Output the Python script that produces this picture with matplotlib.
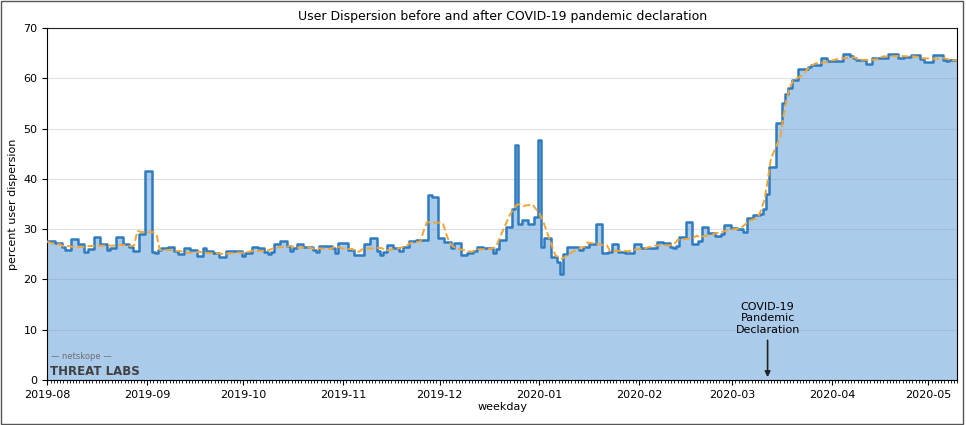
import numpy as np
import pandas as pd
import matplotlib
matplotlib.use("Agg")
import matplotlib.pyplot as plt
import matplotlib.dates as mdates
from matplotlib.patches import Rectangle

# weekday values (percent user dispersion), one list per month
aug = [27.6, 27.6, 27.3, 26.5, 25.8, 25.8, 28.0, 27.0, 25.5, 26.1, 26.1,
       28.5, 27.0, 25.8, 26.2, 26.2, 28.5, 27.0, 26.5, 25.6, 25.6, 29.1]
sep = [41.5, 25.5, 25.2, 25.8, 26.2, 26.5, 25.6, 25.0, 25.0, 26.2, 25.8,
       24.7, 24.7, 26.2, 25.6, 25.2, 24.5, 24.5, 25.6, 25.6, 25.6]
oct_ = [24.7, 25.2, 25.2, 26.4, 26.2, 25.5, 25.0, 25.5, 27.0, 27.6, 26.6, 25.6,
        26.2, 27.0, 26.4, 26.4, 25.8, 25.5, 26.6, 26.6, 26.2, 25.3, 27.2]
nov = [27.3, 25.8, 24.9, 24.9, 24.9, 27.1, 28.2, 25.7, 24.9, 25.5, 26.8,
       26.2, 25.7, 26.5, 26.5, 27.7, 27.8, 27.8, 27.9, 36.8, 36.3]
dec = [28.2, 27.5, 27.5, 26.2, 27.2, 24.9, 25.2, 25.2, 25.6, 26.5, 26.3,
       26.3, 25.3, 26.0, 27.8, 30.5, 34.1, 46.7, 31.1, 31.8, 31.1, 32.5]
jan = [47.8, 26.5, 28.2, 24.5, 23.5, 21.1, 25.0, 26.4, 26.5, 25.8, 26.5, 26.5,
       27.0, 31.0, 25.2, 25.2, 25.5, 27.0, 25.5, 25.2, 25.2, 25.2, 27.0]
feb = [26.2, 26.2, 26.3, 26.3, 27.5, 27.3, 26.5, 26.2, 26.6, 28.5,
       31.5, 27.0, 27.0, 27.6, 30.5, 29.3, 28.6, 28.6, 29.1, 30.8]
mar = [30.2, 30.0, 30.0, 29.5, 32.3, 32.8, 33.0, 34.1, 37.0, 42.3, 51.2,
       55.0, 56.9, 58.0, 59.6, 61.8, 61.8, 62.2, 62.6, 62.6, 64.1, 63.4]
apr = [63.4, 63.4, 63.4, 64.9, 64.5, 64.1, 63.7, 63.7, 62.8, 64.1, 64.0,
       64.0, 64.0, 64.9, 64.9, 64.1, 64.1, 64.3, 64.7, 64.7, 63.9, 63.3]
may = [63.3, 64.6, 64.6, 63.7, 63.5, 63.6, 63.6]

days = pd.bdate_range("2019-08-01", "2020-05-11")
s = pd.Series(aug + sep + oct_ + nov + dec + jan + feb + mar + apr + may, index=days)
trend = s.rolling(5, center=True, min_periods=1).mean()

declaration = pd.Timestamp("2020-03-12")

fig = plt.figure(figsize=(9.66, 4.25), dpi=100)
ax = fig.add_axes([0.049, 0.106, 0.942, 0.828])

ax.fill_between(s.index, s.values, step="mid", color="#abcbea", lw=0, zorder=1)
ax.plot(s.index, s.values, drawstyle="steps-mid", color="#2f7bbf", lw=1.8, zorder=3)
ax.plot(trend.index, trend.values, "--", color="#f0a535", lw=1.4, zorder=4)

ax.set_ylim(0, 70)
ax.set_xlim(days[0], pd.Timestamp("2020-05-10"))
ax.grid(axis="y", color="#7f8fa0", alpha=0.25, lw=0.8, zorder=2)
ax.set_axisbelow(False)

ax.xaxis.set_major_locator(mdates.MonthLocator())
ax.xaxis.set_major_formatter(mdates.DateFormatter("%Y-%m"))
ax.xaxis.set_minor_locator(mdates.DayLocator())
ax.tick_params(axis="both", labelsize=8)
ax.tick_params(axis="x", which="minor", length=2)

ax.set_title("User Dispersion before and after COVID-19 pandemic declaration", fontsize=9)
ax.set_xlabel("weekday", fontsize=8, labelpad=2)
ax.set_ylabel("percent user dispersion", fontsize=8)

ax.annotate("COVID-19\nPandemic\nDeclaration", xy=(declaration, 0), xytext=(declaration, 9.0),
            ha="center", va="bottom", fontsize=8, linespacing=1.2,
            arrowprops=dict(arrowstyle="-|>", color="#222222", lw=1.2, mutation_scale=8))

# watermark
ax.text(0.004, 0.066, "\u2014 netskope \u2014", transform=ax.transAxes,
        fontsize=6, color="#707070", va="center")
ax.text(0.003, 0.024, "THREAT LABS", transform=ax.transAxes,
        fontsize=8.5, fontweight="bold", color="#404040", va="center")

fig.patches.append(Rectangle((0.001, 0.002), 0.996, 0.995, transform=fig.transFigure,
                             fill=False, edgecolor="#555555", lw=1))

fig.savefig("out.png", dpi=100)
